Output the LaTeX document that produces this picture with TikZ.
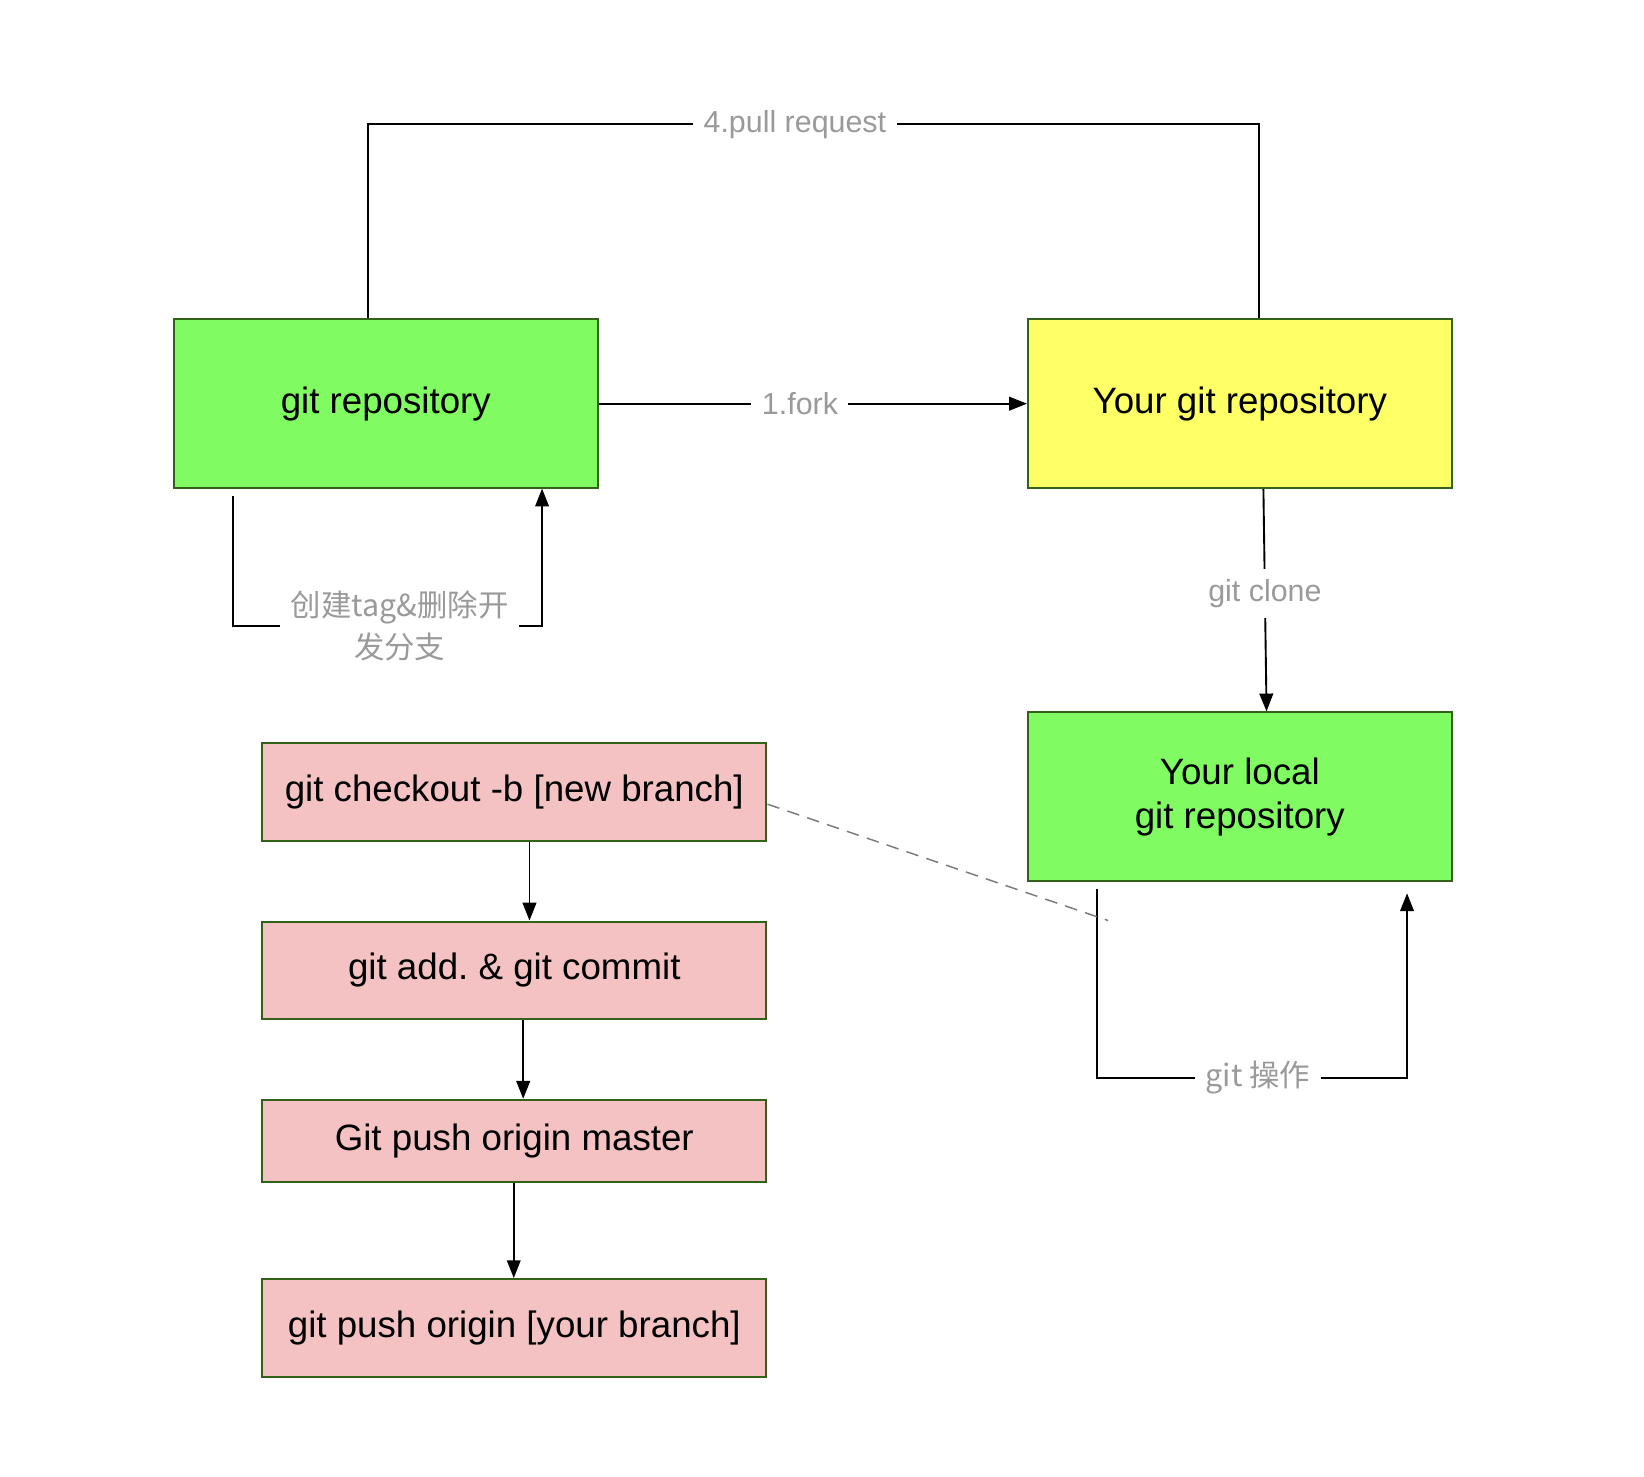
\documentclass[tikz,border=0pt]{standalone}
\usepackage{fontspec}
\setmainfont{Liberation Sans}
\newfontfamily\cjk{Noto Sans CJK SC}
\frenchspacing
\usetikzlibrary{positioning, quotes, calc, arrows.meta}
\definecolor{repogreen}{HTML}{80FC62}
\definecolor{repoyellow}{HTML}{FFFF66}
\definecolor{steppink}{HTML}{F4C2C2}
\definecolor{boxline}{HTML}{336119}
\definecolor{labelgray}{HTML}{9A9A9A}
\tikzset{
repo/.style = {rectangle, draw = boxline, line width = 1pt, minimum width = 202pt,
	minimum height = 80.5pt, align = center, font = \fontsize{17.5}{21}\selectfont},
stepbox/.style = {rectangle, draw = boxline, line width = 1pt, minimum width = 240.5pt,
	align = center, font = \fontsize{17.5}{21}\selectfont},
flow/.style = {-{Triangle[length = 8.5pt, width = 6.5pt]}, line width = 0.9pt},
plain/.style = {line width = 0.9pt},
flowlabel/.style = {fill = white, text = labelgray, inner sep = 5pt, align = center,
	font = \fontsize{14.5}{20}\selectfont}
}

\begin{document}
\begin{tikzpicture}[x = 0.5pt, y = -0.5pt]

\useasboundingbox (0, 0) rectangle (1568, 1408);

%% Repositories
\node at (368, 385) [repo, fill = repogreen] (upstream) {git repository};
\node at (1182.5, 385) [repo, fill = repoyellow] (fork) {Your git repository};
\node at (1182.5, 760) [repo, fill = repogreen] (local) {Your local\\git repository};

%% Steps
\node at (490.5, 755.5) [stepbox, fill = steppink, minimum height = 46.5pt] (checkout) {git checkout -b [new branch]};
\node at (490.5, 925.5) [stepbox, fill = steppink, minimum height = 46.5pt] (commit) {git add. \& git commit};
\node at (490.5, 1088) [stepbox, fill = steppink, minimum height = 39pt] (pushmaster) {Git push origin master};
\node at (490.5, 1266.5) [stepbox, fill = steppink, minimum height = 46.5pt] (pushbranch) {git push origin [your branch]};

% Free ends
\coordinate (tagstart) at (222, 473);
\coordinate (tagend) at (517, 466);
\coordinate (opstart) at (1046, 848);
\coordinate (opend) at (1342, 852);
\coordinate (dashend) at (1057, 878);

%% Connectors
% The fork and the clone
\draw [flow] (upstream.east) -- node [flowlabel, pos = 0.47] {1.fork} (fork.west);
\draw [flow] (fork.south -| 1205, 0) -- node [flowlabel, pos = 0.47] {git clone} (local.north -| 1208, 0);

% The pull request
\draw [plain] (upstream.north -| 351, 0) -- ++(0, -185) -- node [flowlabel, pos = 0.479] {4.pull request} ++(850, 0) -- (fork.north -| 1201, 0);

% The loops
\draw [flow] (tagstart) -- ++(0, 124) -- node [flowlabel, pos = 0.54] {\cjk 创建tag\&删除开\\\cjk 发分支} ++(295, 0) -- (tagend);
\draw [flow] (opstart) -- ++(0, 180) -- node [flowlabel, pos = 0.52] {\cjk git 操作} ++(296, 0) -- (opend);

% The steps
\draw [flow] (checkout.south -| 505, 0) -- (commit.north -| 505, 0);
\draw [flow] (commit.south -| 499, 0) -- (pushmaster.north -| 499, 0);
\draw [flow] (pushmaster.south -| 490, 0) -- (pushbranch.north -| 490, 0);

% The dashed hint
\draw [dashed, labelgray!80!black, line width = 0.7pt, dash pattern = on 6pt off 4pt] (checkout.east |- 0, 767) -- (dashend);

\end{tikzpicture}
\end{document}
